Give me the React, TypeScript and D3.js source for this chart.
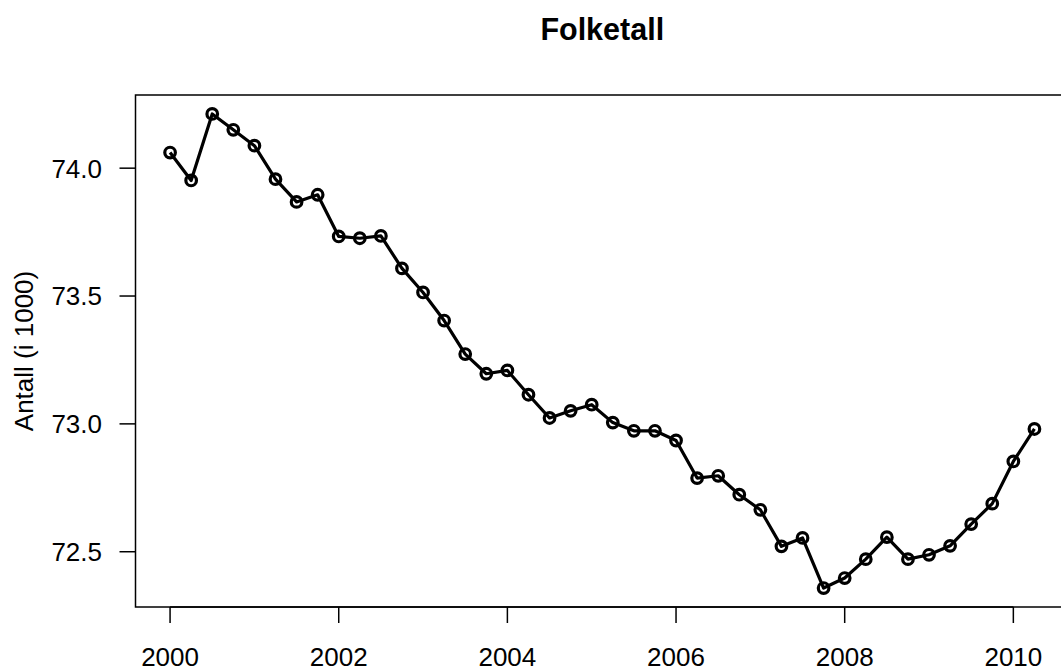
import React from "react";
import * as d3 from "d3";

const title = "Folketall";
const yLabel = "Antall (i 1000)";

// quarterly time points 2000.00 .. 2010.25
const times: number[] = [
  2000.0, 2000.25, 2000.5, 2000.75,
  2001.0, 2001.25, 2001.5, 2001.75,
  2002.0, 2002.25, 2002.5, 2002.75,
  2003.0, 2003.25, 2003.5, 2003.75,
  2004.0, 2004.25, 2004.5, 2004.75,
  2005.0, 2005.25, 2005.5, 2005.75,
  2006.0, 2006.25, 2006.5, 2006.75,
  2007.0, 2007.25, 2007.5, 2007.75,
  2008.0, 2008.25, 2008.5, 2008.75,
  2009.0, 2009.25, 2009.5, 2009.75,
  2010.0, 2010.25,
];

const population: number[] = [
  74.061, 73.952, 74.212, 74.15,
  74.088, 73.957, 73.868, 73.896,
  73.733, 73.726, 73.735, 73.608,
  73.514, 73.404, 73.273, 73.196,
  73.209, 73.114, 73.023, 73.051,
  73.075, 73.005, 72.973, 72.973,
  72.935, 72.788, 72.797, 72.723,
  72.664, 72.521, 72.554, 72.358,
  72.397, 72.471, 72.557, 72.471,
  72.488, 72.523, 72.608, 72.688,
  72.853, 72.98,
];

const xTicks: number[] = [2000, 2002, 2004, 2006, 2008, 2010];
const yTicks: number[] = [72.5, 73.0, 73.5, 74.0];

const W = 1061;
const H = 668;
const left = 135.5;
const right = 1069;
const top = 95;
const bottom = 607;
const font = "'Liberation Sans', Arial, Helvetica, sans-serif";

function extend([a, b]: [number, number]): [number, number] {
  const r = b - a;
  return [a - 0.04 * r, b + 0.04 * r];
}

export default function App() {
  const xExt = d3.extent(times) as [number, number];
  const yExt = d3.extent(population) as [number, number];
  const x = d3.scaleLinear().domain(extend(xExt)).range([left, right]);
  const y = d3.scaleLinear().domain(extend(yExt)).range([bottom, top]);
  const pts = times.map((t, i) => [t, population[i]] as [number, number]);
  const line = d3
    .line<[number, number]>()
    .x((d) => x(d[0]))
    .y((d) => y(d[1]));
  const fmt = d3.format(".1f");
  const tickLen = 16;

  return (
    <svg
      width={W}
      height={H}
      style={{ position: "absolute", left: 0, top: 0, background: "#fff" }}
      fontFamily={font}
    >
      <rect x={0} y={0} width={W} height={H} fill="#fff" />
      <text
        x={(left + right) / 2}
        y={39.5}
        textAnchor="middle"
        fontWeight="bold"
        fontSize={30.5}
        fill="#000"
      >
        {title}
      </text>
      {/* plot box */}
      <rect
        x={left}
        y={top}
        width={right - left}
        height={bottom - top}
        fill="none"
        stroke="#000"
        strokeWidth={1.5}
      />
      {/* x axis */}
      <line x1={x(xTicks[0])} x2={x(xTicks[xTicks.length - 1])} y1={bottom} y2={bottom} stroke="#000" strokeWidth={1.5} />
      {xTicks.map((t) => (
        <g key={"x" + t}>
          <line x1={x(t)} x2={x(t)} y1={bottom} y2={bottom + tickLen} stroke="#000" strokeWidth={1.5} />
          <text x={x(t)} y={666} textAnchor="middle" fontSize={26} fill="#000">
            {t}
          </text>
        </g>
      ))}
      {/* y axis */}
      {yTicks.map((t) => (
        <g key={"y" + t}>
          <line x1={left - tickLen} x2={left} y1={y(t)} y2={y(t)} stroke="#000" strokeWidth={1.5} />
          <text
            x={102}
            y={y(t)}
            dy="0.36em"
            textAnchor="end"
            fontSize={26}
            fill="#000"
          >
            {fmt(t)}
          </text>
        </g>
      ))}
      <text
        transform={`translate(33,${(top + bottom) / 2}) rotate(-90)`}
        textAnchor="middle"
        fontSize={26}
        fill="#000"
      >
        {yLabel}
      </text>
      {/* series */}
      <path d={line(pts) || ""} fill="none" stroke="#000" strokeWidth={3.2} strokeLinejoin="round" />
      {pts.map((d, i) => (
        <circle
          key={i}
          cx={x(d[0])}
          cy={y(d[1])}
          r={5.3}
          fill="none"
          stroke="#000"
          strokeWidth={3.2}
        />
      ))}
    </svg>
  );
}
